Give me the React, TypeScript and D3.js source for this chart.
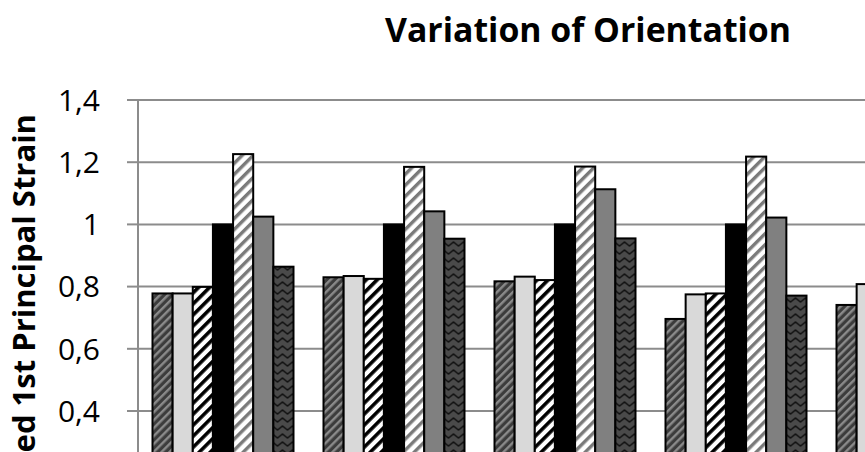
import React from "react";
import * as d3 from "d3";

const categories = ["A", "B", "C", "D", "E"];
const seriesNames = ["S1", "S2", "S3", "S4", "S5", "S6", "S7"];
const series1 = [0.778, 0.83, 0.817, 0.696, 0.741];
const series2 = [0.778, 0.834, 0.832, 0.775, 0.808];
const series3 = [0.799, 0.825, 0.821, 0.778, 0.8];
const series4 = [1.0, 1.0, 1.0, 1.0, 1.0];
const series5 = [1.226, 1.185, 1.186, 1.218, 1.2];
const series6 = [1.025, 1.042, 1.113, 1.022, 1.02];
const series7 = [0.864, 0.954, 0.955, 0.771, 0.8];
const yTicks = [0, 0.2, 0.4, 0.6, 0.8, 1, 1.2, 1.4];
const allSeries = [series1, series2, series3, series4, series5, series6, series7];
const fills = ["url(#p1)", "#d9d9d9", "url(#p3)", "#000000", "url(#p5)", "#808080", "url(#p7)"];

export default function App() {
  const W = 865, H = 452;
  const step = 171;
  const x0 = 137.5;
  const x = d3.scaleBand<string>()
    .domain(categories)
    .range([x0, x0 + step * categories.length])
    .paddingInner(30 / step)
    .paddingOuter(15 / step);
  const xs = d3.scaleBand<string>().domain(seriesNames).range([0, x.bandwidth()]);
  const y = d3.scaleLinear().domain([0, 1.4]).range([535.4, 100]);
  const fmt = (v: number) => (v === 1 ? "1" : v === 0 ? "0" : d3.format(".1f")(v).replace(".", ","));
  const axisX = 138;
  return (
    <svg width={W} height={H} style={{ position: "absolute", left: 0, top: 0, background: "#fff" }}>
      <defs>
        <pattern id="p1" width="5.6" height="5.6" patternUnits="userSpaceOnUse" patternTransform="rotate(45)">
          <rect width="5.6" height="5.6" fill="#3c3c3c" />
          <rect width="2.4" height="5.6" fill="#8a8a8a" />
        </pattern>
        <pattern id="p3" width="7.8" height="7.8" patternUnits="userSpaceOnUse" patternTransform="rotate(45)">
          <rect width="7.8" height="7.8" fill="#ffffff" />
          <rect width="3.6" height="7.8" fill="#000000" />
        </pattern>
        <pattern id="p5" width="7.8" height="7.8" patternUnits="userSpaceOnUse" patternTransform="rotate(45)">
          <rect width="7.8" height="7.8" fill="#ffffff" />
          <rect width="3.4" height="7.8" fill="#7a7a7a" />
        </pattern>
        <pattern id="p7" width="10" height="8" patternUnits="userSpaceOnUse">
          <rect width="10" height="8" fill="#4a4a4a" />
          <path d="M-5,6 L0,2 L5,6 L10,2 L15,6" fill="none" stroke="#111" strokeWidth="1.6" />
        </pattern>
      </defs>
      <text x={588} y={42} textAnchor="middle" fontFamily="Open Sans" fontWeight="bold" fontSize={34}
        textLength={406} lengthAdjust="spacingAndGlyphs">Variation of Orientation</text>
      <text transform={`translate(35,114) rotate(-90)`} textAnchor="end" fontFamily="Open Sans" fontWeight="bold" fontSize={31}>
        Normalized 1st Principal Strain
      </text>
      {yTicks.map((t) => (
        <g key={t}>
          <line x1={axisX} x2={W} y1={y(t)} y2={y(t)} stroke="#8c8c8c" strokeWidth={2} />
          <line x1={127} x2={axisX} y1={y(t)} y2={y(t)} stroke="#8c8c8c" strokeWidth={2} />
          <text x={100} y={y(t)} dy="0.36em" textAnchor="end" fontFamily="Open Sans" fontSize={30}>{fmt(t)}</text>
        </g>
      ))}
      <line x1={axisX} x2={axisX} y1={99} y2={H} stroke="#8c8c8c" strokeWidth={2} />
      {categories.map((c, ci) => (
        <g key={c} transform={`translate(${x(c)},0)`}>
          {allSeries.map((s, si) => (
            <rect key={si} x={xs(seriesNames[si])} width={xs.bandwidth()} y={y(s[ci])}
              height={y(0) - y(s[ci])} fill={fills[si]} stroke="#000" strokeWidth={2} />
          ))}
        </g>
      ))}
    </svg>
  );
}
